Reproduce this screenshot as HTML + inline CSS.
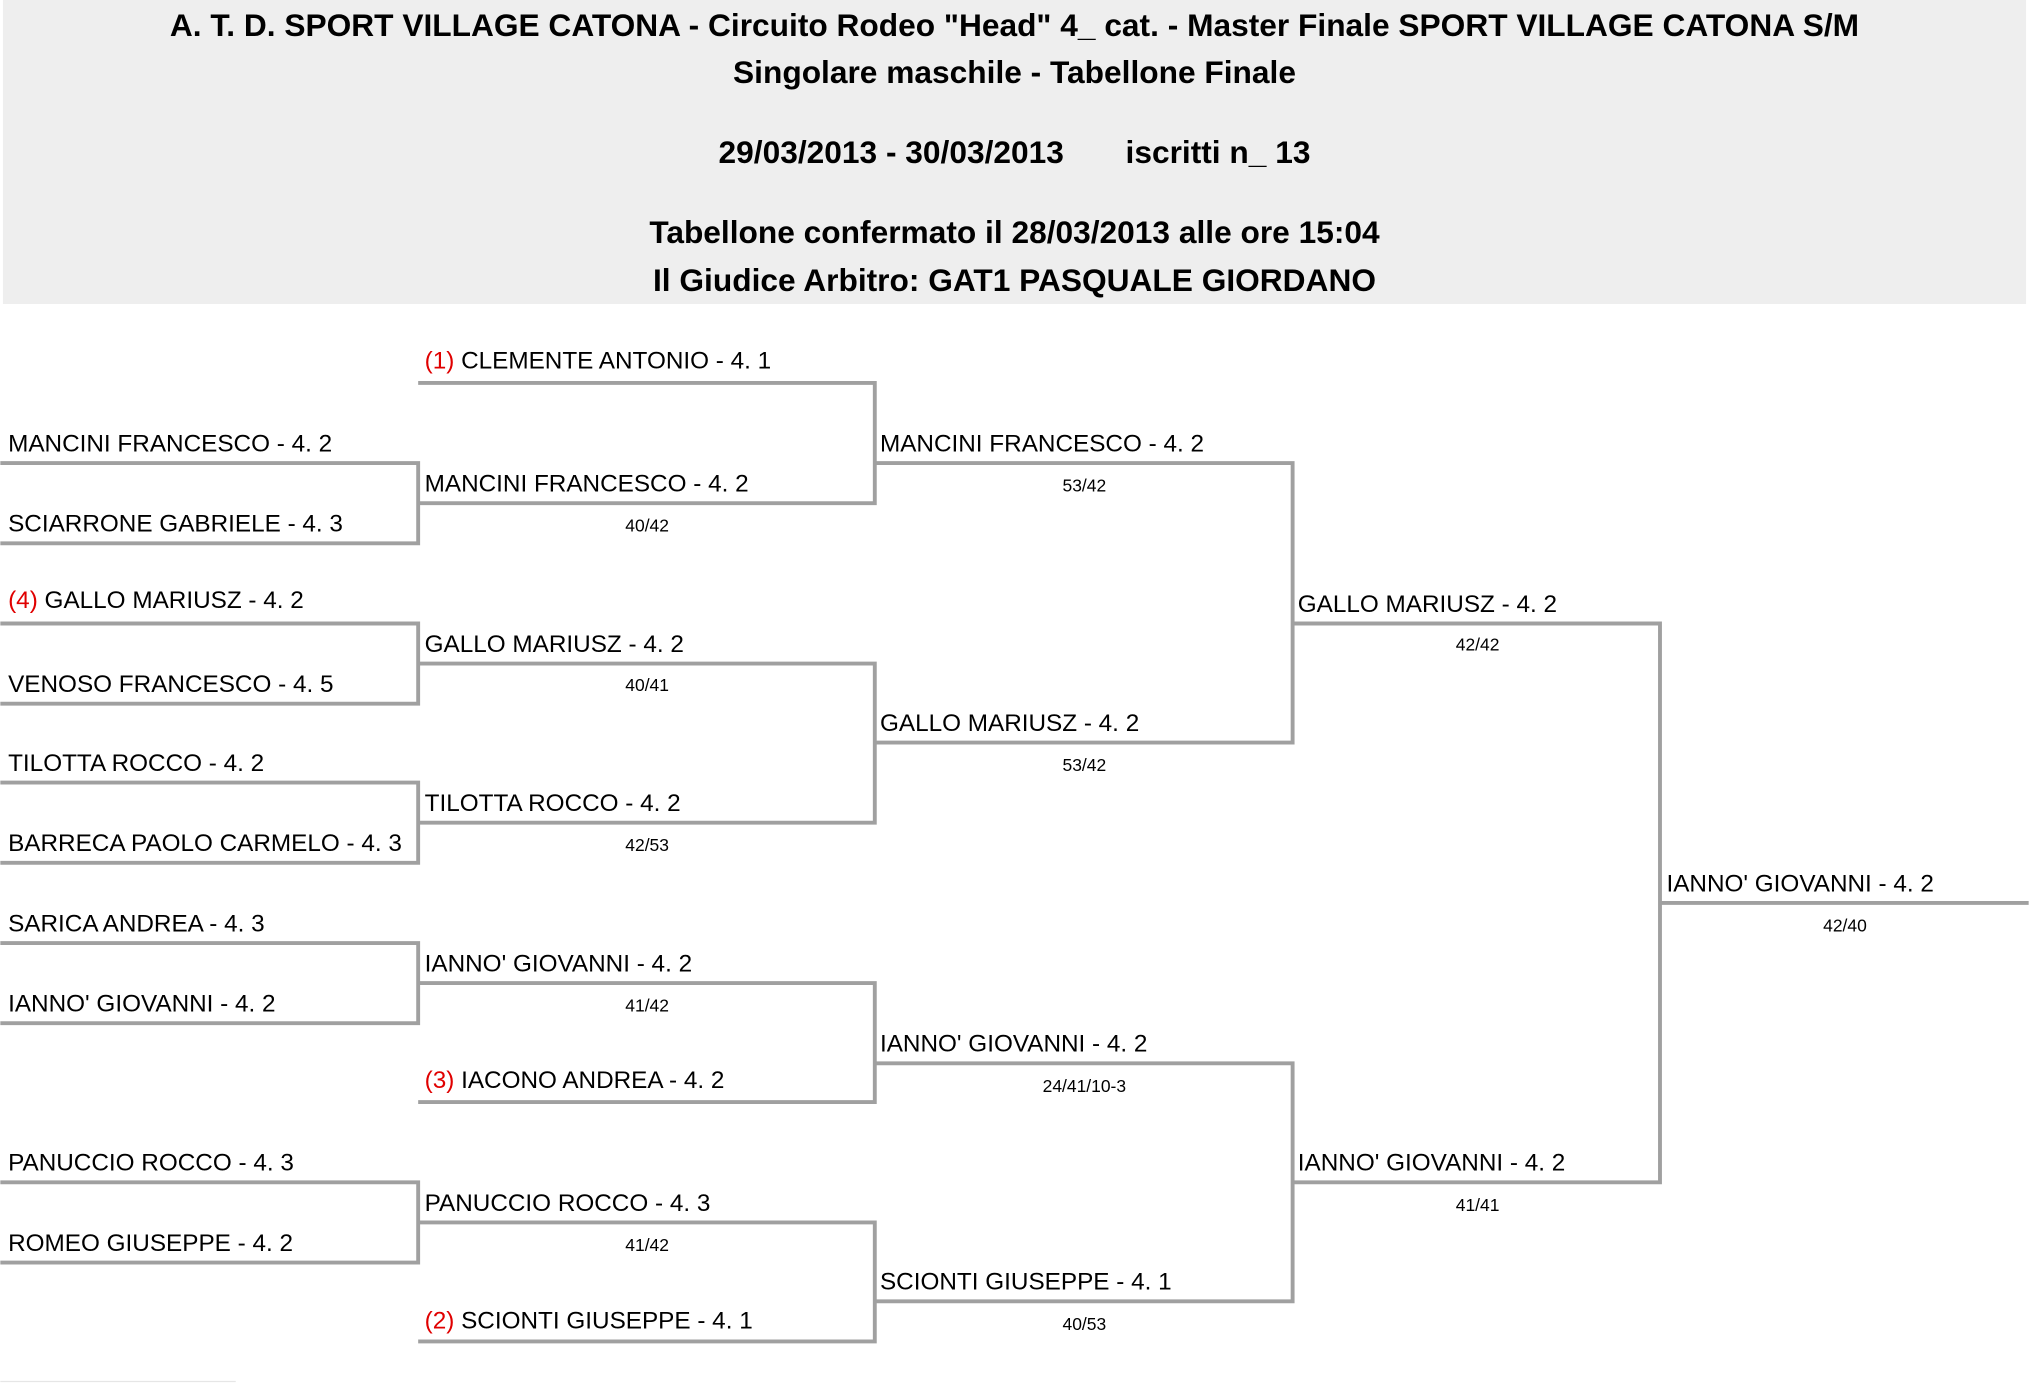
<!DOCTYPE html>
<html><head><meta charset="utf-8"><style>
html,body{margin:0;padding:0;background:#fff;width:2029px;height:1388px;overflow:hidden}
svg{display:block}
text{font-family:"Liberation Sans",sans-serif;fill:#000}
.n{font-size:18.8px}
.s{font-size:13.5px}
.h{font-size:24.5px;font-weight:bold}
.r{fill:#e00000}
</style></head><body>
<svg width="2029" height="1388" viewBox="0 0 1568 1073" xmlns="http://www.w3.org/2000/svg">
<rect x="2" y="0" width="1564" height="235" fill="#eeeeee"/>
<g text-anchor="middle" class="h">
<text class="h" x="784" y="28">A. T. D. SPORT VILLAGE CATONA - Circuito Rodeo "Head" 4_ cat. - Master Finale SPORT VILLAGE CATONA S/M</text>
<text class="h" x="784" y="64">Singolare maschile - Tabellone Finale</text>
<text class="h" x="784" y="126">29/03/2013 - 30/03/2013 &#160;&#160;&#160;&#160;&#160; iscritti n_ 13</text>
<text class="h" x="784" y="188">Tabellone confermato il 28/03/2013 alle ore 15:04</text>
<text class="h" x="784" y="225">Il Giudice Arbitro: GAT1 PASQUALE GIORDANO</text>
</g>
<g stroke="#a0a0a0" stroke-width="3" fill="none">
<path d="M0 358H323V420H0"/>
<path d="M0 482H323V544H0"/>
<path d="M0 605H323V667H0"/>
<path d="M0 729H323V791H0"/>
<path d="M0 914H323V976H0"/>
<path d="M323 296H676V389H323"/>
<path d="M323 513H676V636H323"/>
<path d="M323 760H676V852H323"/>
<path d="M323 945H676V1037H323"/>
<path d="M676 358H999V574H676"/>
<path d="M676 822H999V1006H676"/>
<path d="M999 482H1283V914H999"/>
<path d="M1283 698H1568"/>
</g>
<line x1="0" y1="1068" x2="182" y2="1068" stroke="#e6e6e6" stroke-width="1"/>
<g class="n">
<text class="n" x="6" y="349">MANCINI FRANCESCO - 4. 2</text>
<text class="n" x="6" y="411">SCIARRONE GABRIELE - 4. 3</text>
<text class="n" x="6" y="470"><tspan class="r">(4)</tspan> GALLO MARIUSZ - 4. 2</text>
<text class="n" x="6" y="535">VENOSO FRANCESCO - 4. 5</text>
<text class="n" x="6" y="596">TILOTTA ROCCO - 4. 2</text>
<text class="n" x="6" y="658">BARRECA PAOLO CARMELO - 4. 3</text>
<text class="n" x="6" y="720">SARICA ANDREA - 4. 3</text>
<text class="n" x="6" y="782">IANNO' GIOVANNI - 4. 2</text>
<text class="n" x="6" y="905">PANUCCIO ROCCO - 4. 3</text>
<text class="n" x="6" y="967">ROMEO GIUSEPPE - 4. 2</text>

<text class="n" x="328" y="285"><tspan class="r">(1)</tspan> CLEMENTE ANTONIO - 4. 1</text>
<text class="n" x="328" y="380">MANCINI FRANCESCO - 4. 2</text>
<text class="n" x="328" y="504">GALLO MARIUSZ - 4. 2</text>
<text class="n" x="328" y="627">TILOTTA ROCCO - 4. 2</text>
<text class="n" x="328" y="751">IANNO' GIOVANNI - 4. 2</text>
<text class="n" x="328" y="841"><tspan class="r">(3)</tspan> IACONO ANDREA - 4. 2</text>
<text class="n" x="328" y="936">PANUCCIO ROCCO - 4. 3</text>
<text class="n" x="328" y="1027"><tspan class="r">(2)</tspan> SCIONTI GIUSEPPE - 4. 1</text>

<text class="n" x="680" y="349">MANCINI FRANCESCO - 4. 2</text>
<text class="n" x="680" y="565">GALLO MARIUSZ - 4. 2</text>
<text class="n" x="680" y="813">IANNO' GIOVANNI - 4. 2</text>
<text class="n" x="680" y="997">SCIONTI GIUSEPPE - 4. 1</text>

<text class="n" x="1003" y="473">GALLO MARIUSZ - 4. 2</text>
<text class="n" x="1003" y="905">IANNO' GIOVANNI - 4. 2</text>

<text class="n" x="1288" y="689">IANNO' GIOVANNI - 4. 2</text>
</g>
<g text-anchor="middle">
<text class="s" x="500" y="411">40/42</text>
<text class="s" x="500" y="534">40/41</text>
<text class="s" x="500" y="658">42/53</text>
<text class="s" x="500" y="782">41/42</text>
<text class="s" x="500" y="967">41/42</text>
<text class="s" x="838" y="380">53/42</text>
<text class="s" x="838" y="596">53/42</text>
<text class="s" x="838" y="844">24/41/10-3</text>
<text class="s" x="838" y="1028">40/53</text>
<text class="s" x="1142" y="503">42/42</text>
<text class="s" x="1142" y="936">41/41</text>
<text class="s" x="1426" y="720">42/40</text>
</g>
</svg>
</body></html>
